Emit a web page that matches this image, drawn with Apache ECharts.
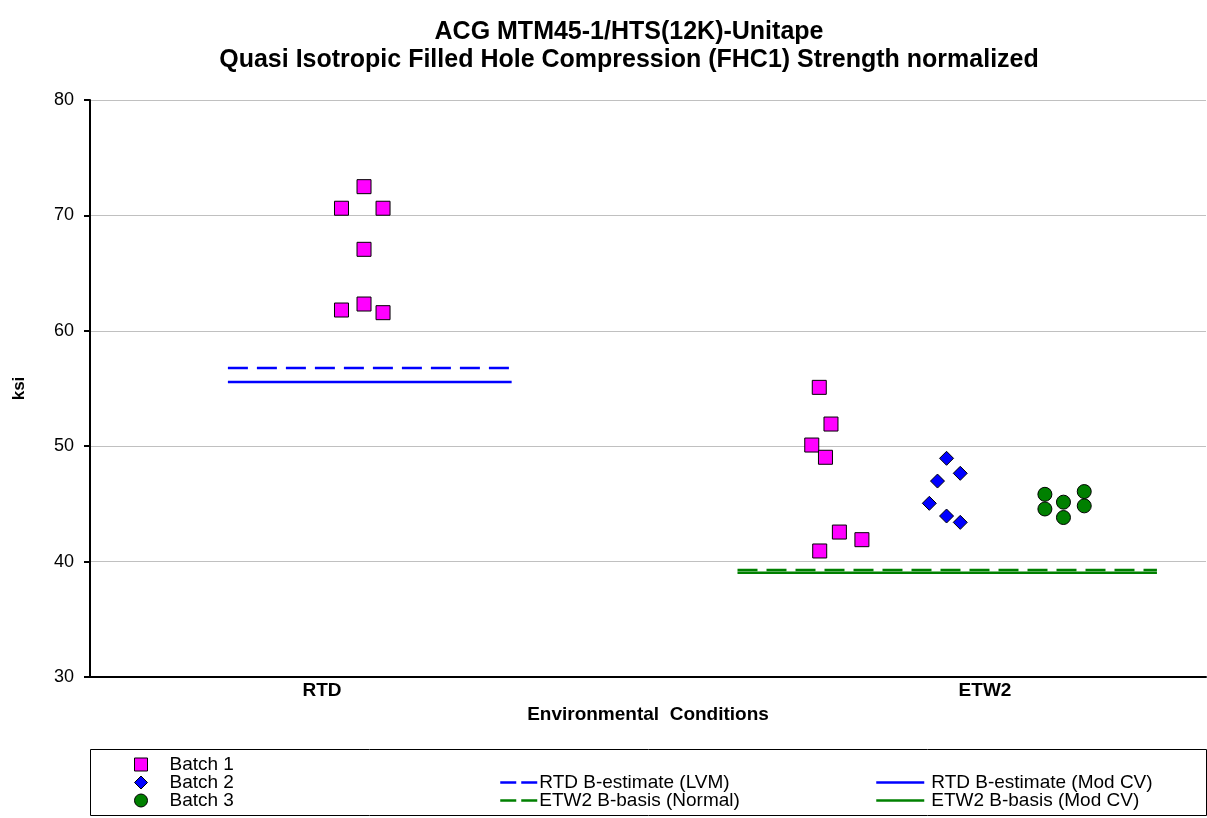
<!DOCTYPE html>
<html>
<head>
<meta charset="utf-8">
<script src="https://cdn.jsdelivr.net/npm/echarts@6/dist/echarts.min.js"></script>
<style>
  html, body { margin: 0; padding: 0; background: #fff; }
  #chart { width: 1207px; height: 818px; }
</style>
</head>
<body>
<div id="chart"></div>
<script>
// x positions: RTD = 1, ETW2 = 4 (jittered points around them)
const conditions = ['RTD', 'ETW2'];
const conditionPos = [1, 4];

const batch1 = [
    [1.088, 61.80], [1.088, 70.62], [1.190, 72.49], [1.190, 67.06], [1.190, 62.32],
    [1.276, 70.62], [1.276, 61.57],
    [3.250, 55.10], [3.303, 51.92], [3.216, 50.10], [3.278, 49.04], [3.341, 42.56],
    [3.443, 41.90], [3.252, 40.92]
];
const batch2 = [
    [3.826, 48.95], [3.888, 47.65], [3.785, 46.98], [3.748, 45.05], [3.826, 43.95], [3.888, 43.40]
];
const batch3 = [
    [4.271, 45.83], [4.271, 44.56], [4.355, 45.15], [4.355, 43.82], [4.449, 46.07], [4.449, 44.83]
];

const rtdLvm = [[0.574, 56.78], [1.858, 56.78]];
const rtdModCv = [[0.574, 55.56], [1.858, 55.56]];
const etw2Normal = [[2.880, 39.27], [4.778, 39.27]];
const etw2ModCv = [[2.880, 39.04], [4.778, 39.04]];

const yTicks = { min: 30, max: 80, interval: 10 };

const FONT = 'Liberation Sans, Arial, sans-serif';

const scatter = (name, data, symbol, color, size) => ({
    name: name,
    type: 'scatter',
    data: data,
    symbol: symbol,
    symbolSize: size,
    itemStyle: { color: color, borderColor: '#000', borderWidth: 1, opacity: 1 },
    z: 5
});
const limitLine = (name, data, color, dashed) => ({
    name: name,
    type: 'line',
    data: data,
    symbol: 'none',
    lineStyle: { color: color, width: 2.5, type: dashed ? [20, 9] : 'solid' },
    itemStyle: { color: color },
    z: 3
});

const legendBase = {
    orient: 'vertical',
    itemGap: -1,
    itemHeight: 13,
    textStyle: { fontFamily: FONT, fontSize: 19, color: '#000', lineHeight: 17 },
    padding: 0
};
// line legend entries: hide the marker drawn on the line icon
const lineItem = (name, dashed) => ({
    name: name,
    itemStyle: { opacity: 0 },
    lineStyle: { width: 2.5, type: dashed ? [16, 5] : 'solid' }
});

const option = {
    animation: false,
    backgroundColor: '#fff',
    title: {
        text: 'ACG MTM45-1/HTS(12K)-Unitape\nQuasi Isotropic Filled Hole Compression (FHC1) Strength normalized',
        left: 624,
        textAlign: 'center',
        top: 13,
        textStyle: { fontFamily: FONT, fontSize: 25, fontWeight: 'bold', color: '#000', lineHeight: 28 }
    },
    grid: { left: 90, right: 1, top: 100, bottom: 141 },
    xAxis: {
        type: 'value',
        min: -0.05,
        max: 5,
        name: 'Environmental  Conditions',
        nameLocation: 'middle',
        nameGap: 27,
        nameTextStyle: { fontFamily: FONT, fontSize: 19, fontWeight: 'bold', color: '#000' },
        axisLine: { lineStyle: { color: '#000', width: 2 } },
        axisTick: { show: false },
        splitLine: { show: false },
        axisLabel: {
            customValues: conditionPos,
            formatter: v => conditions[conditionPos.indexOf(v)] || '',
            fontFamily: FONT, fontSize: 19, fontWeight: 'bold', color: '#000', margin: 4
        }
    },
    yAxis: {
        type: 'value',
        min: yTicks.min,
        max: yTicks.max,
        interval: yTicks.interval,
        name: 'ksi',
        nameLocation: 'middle',
        nameRotate: 90,
        nameGap: 62,
        nameTextStyle: { fontFamily: FONT, fontSize: 17, fontWeight: 'bold', color: '#000' },
        axisLine: { show: true, onZero: false, lineStyle: { color: '#000', width: 2 } },
        axisTick: { show: true, length: 6, lineStyle: { color: '#000', width: 2 } },
        splitLine: { lineStyle: { color: '#c0c0c0', width: 1 } },
        axisLabel: { fontFamily: FONT, fontSize: 18, color: '#000', margin: 16 }
    },
    legend: [
        Object.assign({}, legendBase, {
            left: 134, top: 755, itemWidth: 13,
            data: ['Batch 1', 'Batch 2', 'Batch 3'],
            textStyle: Object.assign({}, legendBase.textStyle, { padding: [0, 0, 0, 17] }),
            itemStyle: { borderColor: '#000', borderWidth: 1 }
        }),
        Object.assign({}, legendBase, {
            left: 499, top: 773, itemWidth: 37,
            textStyle: Object.assign({}, legendBase.textStyle, { padding: [0, 0, 0, -3] }),
            data: [lineItem('RTD B-estimate (LVM)', true), lineItem('ETW2 B-basis (Normal)', true)]
        }),
        Object.assign({}, legendBase, {
            left: 875, top: 773, itemWidth: 48,
            textStyle: Object.assign({}, legendBase.textStyle, { padding: [0, 0, 0, 2] }),
            data: [lineItem('RTD B-estimate (Mod CV)', false), lineItem('ETW2 B-basis (Mod CV)', false)]
        })
    ],
    graphic: [{
        type: 'rect',
        shape: { x: 90.5, y: 749.5, width: 1116, height: 66 },
        style: { fill: 'none', stroke: '#000', lineWidth: 1 },
        silent: true
    }],
    series: [
        scatter('Batch 1', batch1, 'rect', '#ff00ff', 14),
        scatter('Batch 2', batch2, 'diamond', '#0000ff', 14),
        scatter('Batch 3', batch3, 'circle', '#008000', 14),
        limitLine('RTD B-estimate (LVM)', rtdLvm, '#0000ff', true),
        limitLine('RTD B-estimate (Mod CV)', rtdModCv, '#0000ff', false),
        limitLine('ETW2 B-basis (Normal)', etw2Normal, '#008000', true),
        limitLine('ETW2 B-basis (Mod CV)', etw2ModCv, '#008000', false)
    ]
};

const chart = echarts.init(document.getElementById('chart'));
chart.setOption(option);
</script>
</body>
</html>
